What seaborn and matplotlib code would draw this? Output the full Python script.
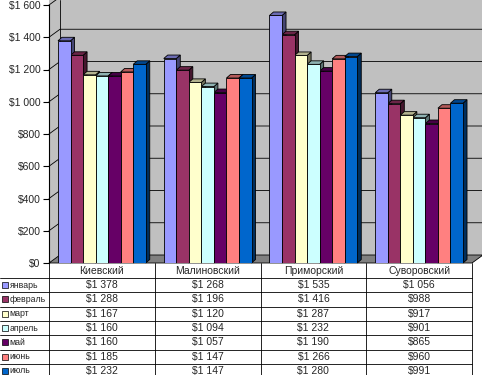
import matplotlib.pyplot as plt
import matplotlib.transforms as mtransforms
import numpy as np
import pandas as pd
import seaborn as sns
from matplotlib.lines import Line2D
from matplotlib.patches import Polygon, Rectangle

sns.set_style("white")
plt.rcParams["font.family"] = ["Liberation Sans", "DejaVu Sans"]

DISTRICTS = ["Киевский", "Малиновский", "Приморский", "Суворовский"]
MONTHS = ["январь", "февраль", "март", "апрель", "май", "июнь", "июль"]
JANUARY = [1378, 1268, 1535, 1056]
FEBRUARY = [1288, 1196, 1416, 988]
MARCH = [1167, 1120, 1287, 917]
APRIL = [1160, 1094, 1232, 901]
MAY = [1160, 1057, 1190, 865]
JUNE = [1185, 1147, 1266, 960]
JULY = [1232, 1147, 1280, 991]
SERIES = [JANUARY, FEBRUARY, MARCH, APRIL, MAY, JUNE, JULY]
COLORS = ["#9999FF", "#993366", "#FFFFCC", "#CCFFFF", "#660066", "#FF8080", "#0066CC"]
Y_TICKS = [0, 200, 400, 600, 800, 1000, 1200, 1400, 1600]

W, H = 482, 375
WALL_DX, WALL_DY = 11, 8   # depth of the back wall (px)
BAR_DX, BAR_DY = 4, 3.5    # depth of each bar (px)
PIX = mtransforms.IdentityTransform()


def money(v):
    return "$" + f"{v:,}".replace(",", " ")


def top(y):
    # pixel row counted from the top of the image -> display y
    return H - y


df = pd.DataFrame(
    [(d, m, vals[i]) for m, vals in zip(MONTHS, SERIES) for i, d in enumerate(DISTRICTS)],
    columns=["district", "month", "value"],
)

fig = plt.figure(figsize=(W / 100, H / 100), dpi=100)
ax = fig.add_axes([49 / W, (H - 263) / H, 423 / W, 258 / H])
ax.patch.set_visible(False)

sns.barplot(
    data=df, x="district", y="value", hue="month", order=DISTRICTS, hue_order=MONTHS,
    palette=COLORS, saturation=1, width=0.83, edgecolor="black", linewidth=0.6,
    legend=False, ax=ax,
)
ax.set_xlim(-0.5, len(DISTRICTS) - 0.5)
ax.set_ylim(0, 1600)

x_left = ax.transData.transform((-0.5, 0))[0]
x_right = ax.transData.transform((len(DISTRICTS) - 0.5, 0))[0]
y_zero = ax.transData.transform((0, 0))[1]

# walls and floor
back = Polygon(
    [(x_left, y_zero), (x_right, y_zero), (x_right + WALL_DX, y_zero + WALL_DY),
     (x_right + WALL_DX, H), (x_left, H)],
    closed=True, facecolor="#C0C0C0", edgecolor="none", transform=PIX, clip_on=False, zorder=0,
)
ax.add_patch(back)
floor = Polygon(
    [(x_left, y_zero), (x_right, y_zero), (x_right + WALL_DX, y_zero + WALL_DY),
     (x_left + WALL_DX, y_zero + WALL_DY)],
    closed=True, facecolor="#808080", edgecolor="black", linewidth=0.6,
    transform=PIX, clip_on=False, zorder=0.5,
)
ax.add_patch(floor)
ax.add_line(Line2D([x_left + WALL_DX] * 2, [y_zero + WALL_DY, H], color="black", lw=0.6,
                   transform=PIX, clip_on=False, zorder=1))
for v in Y_TICKS[1:]:
    yv = ax.transData.transform((0, v))[1]
    ax.add_line(Line2D([x_left, x_left + WALL_DX, x_right + WALL_DX],
                       [yv, yv + WALL_DY, yv + WALL_DY], color="black", lw=0.6,
                       transform=PIX, clip_on=False, zorder=1))

# 3-D faces of the bars
bars = sorted([p for p in ax.patches if isinstance(p, Rectangle) and p.get_height() > 0
               and p is not back], key=lambda p: p.get_x())
for i, p in enumerate(bars):
    x0, y0 = ax.transData.transform((p.get_x(), 0))
    x1, y1 = ax.transData.transform((p.get_x() + p.get_width(), p.get_height()))
    rgb = np.array(p.get_facecolor()[:3])
    side = Polygon([(x1, y0), (x1 + BAR_DX, y0 + BAR_DY), (x1 + BAR_DX, y1 + BAR_DY), (x1, y1)],
                   facecolor=rgb * 0.45, edgecolor="black", linewidth=0.6,
                   transform=PIX, clip_on=False, zorder=2 + i * 0.001)
    cap = Polygon([(x0, y1), (x1, y1), (x1 + BAR_DX, y1 + BAR_DY), (x0 + BAR_DX, y1 + BAR_DY)],
                  facecolor=rgb * 0.7, edgecolor="black", linewidth=0.6,
                  transform=PIX, clip_on=False, zorder=2 + i * 0.001)
    ax.add_patch(side)
    ax.add_patch(cap)
    p.set_zorder(3)

# axes
ax.set_yticks(Y_TICKS)
ax.set_yticklabels([money(v) for v in Y_TICKS])
ax.set_xticks([])
ax.set_xlabel("")
ax.set_ylabel("")
for name, spine in ax.spines.items():
    spine.set_visible(name == "left")
ax.spines["left"].set_color("black")
ax.spines["left"].set_linewidth(0.8)
ax.tick_params(axis="y", direction="out", length=4, width=0.8, color="black",
               labelsize=7.5, pad=2, left=True)

# data table
ROW0, ROW_H = 263, 14.3
n_rows = len(MONTHS) + 1
fs = 7.5
for k in range(len(DISTRICTS) + 1):
    xb = ax.transData.transform((k - 0.5, 0))[0]
    fig.add_artist(Line2D([xb / W] * 2, [top(ROW0) / H, 0], color="black", lw=0.6))
for r in range(1, n_rows):
    yl = ROW0 + 15 + (r - 1) * ROW_H
    fig.add_artist(Line2D([0, x_right / W], [top(yl) / H] * 2, color="black", lw=0.6))
for k, d in enumerate(DISTRICTS):
    xc = ax.transData.transform((k, 0))[0]
    fig.text(xc / W, top(ROW0 + 7.5) / H, d, ha="center", va="center", fontsize=fs)
for r, (m, vals, c) in enumerate(zip(MONTHS, SERIES, COLORS)):
    yc = ROW0 + 15 + r * ROW_H + ROW_H / 2
    fig.add_artist(Rectangle((2 / W, (top(yc) - 3) / H), 6 / W, 6 / H, facecolor=c,
                             edgecolor="black", linewidth=0.5))
    fig.text(9.5 / W, top(yc) / H, m, ha="left", va="center", fontsize=6.3)
    for k, v in enumerate(vals):
        xc = ax.transData.transform((k, 0))[0]
        fig.text(xc / W, top(yc) / H, money(v), ha="center", va="center", fontsize=fs)

fig.savefig("out.png", dpi=100)
